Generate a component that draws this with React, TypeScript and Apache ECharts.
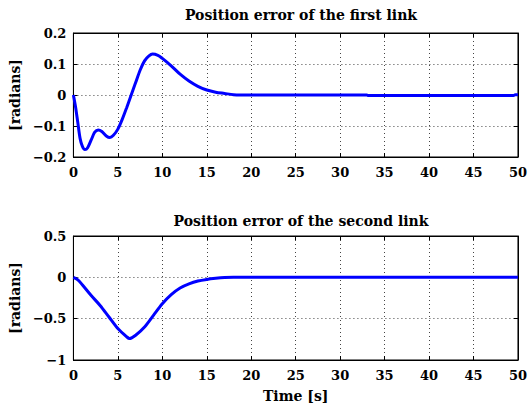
import React, { useEffect, useRef } from "react";
import * as echarts from "echarts";

const t1 = [0, 0.25, 0.5, 0.75, 1, 1.3, 1.6, 2, 2.4, 2.8, 3.2, 3.7, 4.1, 4.5, 5, 5.5, 6, 6.5, 7, 7.5, 8, 8.5, 8.9, 9.5, 10, 11, 12, 13, 14, 15, 16, 17, 18, 20, 25, 30, 33, 33.2, 40, 45, 49.5, 49.7, 50];
const e1 = [0, -0.04, -0.09, -0.14, -0.165, -0.176, -0.17, -0.145, -0.12, -0.113, -0.118, -0.132, -0.137, -0.13, -0.11, -0.078, -0.04, 0, 0.04, 0.08, 0.11, 0.126, 0.132, 0.128, 0.118, 0.094, 0.067, 0.045, 0.028, 0.016, 0.009, 0.005, 0.001, 0, 0, 0, 0, -0.002, -0.002, -0.002, -0.002, 0.001, 0.001];

const t2 = [0, 0.5, 1, 2, 3, 4, 5, 6, 6.3, 7, 8, 9, 10, 11, 12, 13, 14, 15, 16, 17, 18, 20, 30, 40, 50];
const e2 = [0, -0.03, -0.09, -0.22, -0.34, -0.48, -0.62, -0.72, -0.74, -0.7, -0.6, -0.46, -0.32, -0.21, -0.13, -0.08, -0.045, -0.025, -0.012, -0.003, 0, 0, 0, 0, 0];

const titles = ["Position error of the first link", "Position error of the second link"];
const yLabel = "[radians]";
const xLabel = "Time [s]";

const FONT = "DejaVu Serif";

export default function App() {
  const ref = useRef<HTMLDivElement>(null);
  useEffect(() => {
    const chart = echarts.init(ref.current!, null, { renderer: "svg" });
    const fmt = (v: number) => {
      const r = Math.round(v * 100) / 100;
      return String(r).replace("-", "\u2212");
    };
    const txt = { fontFamily: FONT, fontWeight: "bold" as const, fontSize: 13, color: "#000" };
    const nameTxt = { ...txt, fontSize: 14 };
    const grids = [
      { left: 71, right: 8, top: 33, height: 124, show: true, borderColor: "#000", borderWidth: 1 },
      { left: 71, right: 8, top: 236, height: 124, show: true, borderColor: "#000", borderWidth: 1 },
    ];
    const xAxes: any[] = [];
    const yAxes: any[] = [];
    const yRanges = [
      { min: -0.2, max: 0.2, interval: 0.1 },
      { min: -1, max: 0.5, interval: 0.5 },
    ];
    [0, 1].forEach((g) => {
      xAxes.push({
        type: "value", gridIndex: g, min: 0, max: 50, interval: 5, position: "bottom",
        name: g === 1 ? xLabel : "", nameLocation: "middle", nameGap: 29, nameTextStyle: nameTxt,
        axisLine: { show: true, onZero: false, lineStyle: { color: "#000" } },
        axisTick: { show: true, inside: true, length: 4, lineStyle: { color: "#000" } },
        axisLabel: { ...txt, margin: 9, formatter: (v: number) => String(v) },
        splitLine: { show: true, lineStyle: { color: "#444", type: [1, 3], width: 1 } },
      });
      xAxes.push({
        type: "value", gridIndex: g, min: 0, max: 50, interval: 5, position: "top",
        axisLine: { show: true, onZero: false, lineStyle: { color: "#000" } },
        axisTick: { show: true, inside: true, length: 4, lineStyle: { color: "#000" } },
        axisLabel: { show: false }, splitLine: { show: false },
      });
      yAxes.push({
        type: "value", gridIndex: g, ...yRanges[g], position: "left",
        name: yLabel, nameLocation: "middle", nameGap: 44, nameRotate: 90, nameTextStyle: nameTxt,
        axisLine: { show: true, onZero: false, lineStyle: { color: "#000" } },
        axisTick: { show: true, inside: true, length: 4, lineStyle: { color: "#000" } },
        axisLabel: { ...txt, margin: 7, formatter: fmt },
        splitLine: { show: true, lineStyle: { color: "#444", type: [1, 3], width: 1 } },
      });
      yAxes.push({
        type: "value", gridIndex: g, ...yRanges[g], position: "right",
        axisLine: { show: true, onZero: false, lineStyle: { color: "#000" } },
        axisTick: { show: true, inside: true, length: 4, lineStyle: { color: "#000" } },
        axisLabel: { show: false }, splitLine: { show: false },
      });
    });
    chart.setOption({
      animation: false,
      backgroundColor: "#fff",
      title: titles.map((t, i) => ({
        text: t, left: 296, top: i === 0 ? 3 : 209, textAlign: "center",
        textStyle: { ...txt, fontSize: 14 },
      })),
      grid: grids,
      xAxis: xAxes,
      yAxis: yAxes,
      series: [
        {
          type: "line", xAxisIndex: 0, yAxisIndex: 0, showSymbol: false,
          data: t1.map((t, i) => [t, e1[i]]), smooth: 0.3,
          lineStyle: { color: "#0000ff", width: 3 },
        },
        {
          type: "line", xAxisIndex: 2, yAxisIndex: 2, showSymbol: false,
          data: t2.map((t, i) => [t, e2[i]]), smooth: 0.3,
          lineStyle: { color: "#0000ff", width: 3 },
        },
      ],
    });
    return () => chart.dispose();
  }, []);
  return <div ref={ref} style={{ width: 530, height: 407, position: "absolute", left: 0, top: 0 }} />;
}
